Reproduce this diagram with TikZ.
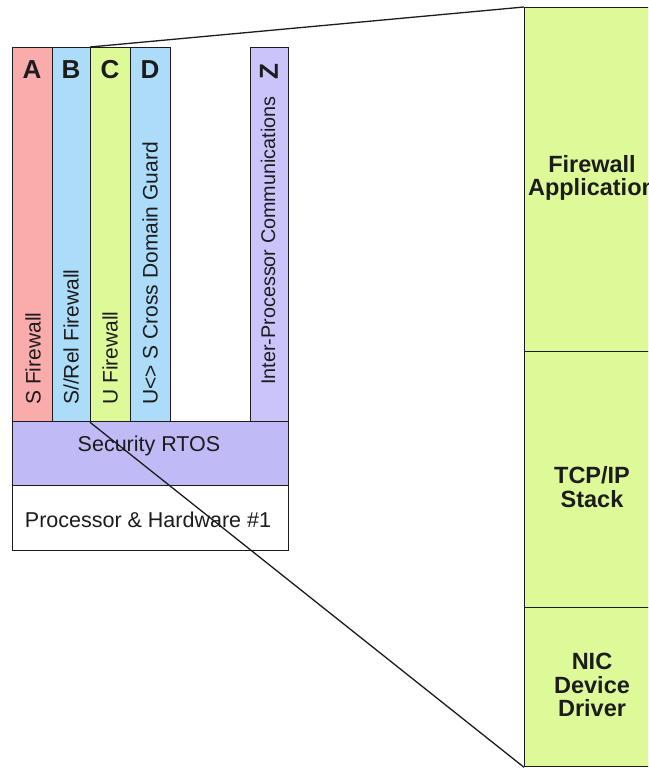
\documentclass[tikz,border=0pt]{standalone}
\usepackage{fontspec}
\setmainfont{Liberation Sans}
\definecolor{cPink}{RGB}{250,172,172}
\definecolor{cBlue}{RGB}{172,220,250}
\definecolor{cLime}{RGB}{222,250,152}
\definecolor{cLav}{RGB}{202,196,250}
\definecolor{cRtos}{RGB}{192,186,246}
\definecolor{cInk}{RGB}{28,28,28}
\begin{document}
\begin{tikzpicture}[x=1pt,y=-1pt,
  box/.style={draw=cInk, line width=1.3pt, inner sep=0pt, anchor=north west},
  letter/.style={font=\bfseries\fontsize{26}{26}\selectfont, text=cInk, inner sep=0pt},
  vlabel/.style={font=\fontsize{21}{21}\selectfont, text=cInk, rotate=90, anchor=west, inner sep=0pt},
  hlabel/.style={font=\fontsize{21.5}{21.5}\selectfont, text=cInk, anchor=base, inner sep=0pt},
  stacklabel/.style={font=\bfseries\fontsize{23.5}{23.5}\selectfont, text=cInk, align=center, inner sep=0pt},
  zoomline/.style={draw=cInk, line width=1.3pt}]
\useasboundingbox (0,0) rectangle (648,768);
\clip (0,0) rectangle (648,768);
\fill[white] (0,0) rectangle (648,768);

% partition columns
\node[box, fill=cPink, minimum width=40pt, minimum height=374pt] (A) at (12,47) {};
\node[box, fill=cBlue, minimum width=38pt, minimum height=374pt] (B) at (52,47) {};
\node[box, fill=cLime, minimum width=40pt, minimum height=374pt] (C) at (90,47) {};
\node[box, fill=cBlue, minimum width=40pt, minimum height=374pt] (D) at (130,47) {};
\node[box, fill=cLav, minimum width=38pt, minimum height=374pt] (Z) at (250,47) {};

% kernel and hardware layers
\node[box, fill=cRtos, minimum width=276pt, minimum height=64pt] (rtos) at (12,421) {};
\node[box, fill=white, minimum width=276pt, minimum height=65pt] (hw) at (12,485) {};

% partition letters
\node[letter] (lA) at (32,70) {A};
\node[letter] (lB) at (71,70) {B};
\node[letter] (lC) at (110,70) {C};
\node[letter] (lD) at (150,70) {D};
\node[letter, rotate=90] (lZ) at (269,72) {Z};

% partition names
\node[vlabel] (tA) at (33,405) {S Firewall};
\node[vlabel] (tB) at (71,405) {S//Rel Firewall};
\node[vlabel] (tC) at (110,405) {U Firewall};
\node[vlabel] (tD) at (150,405) {U<> S Cross Domain Guard};
\node[vlabel, font=\fontsize{19.8}{19.8}\selectfont] (tZ) at (268,385) {Inter-Processor Communications};

\node[hlabel] (trtos) at (149,451) {Security RTOS};
\node[hlabel] (thw) at (148,527) {Processor \& Hardware \#1};

% expanded view of partition C
\node[box, fill=cLime, minimum width=136pt, minimum height=344pt] (fa) at (524,7) {};
\node[box, fill=cLime, minimum width=136pt, minimum height=256pt] (tcp) at (524,351) {};
\node[box, fill=cLime, minimum width=136pt, minimum height=159pt] (nic) at (524,607) {};

\node[stacklabel] (tfa) at (592,178) {Firewall\\Application};
\node[stacklabel] (ttcp) at (592,487) {TCP/IP\\Stack};
\node[stacklabel] (tnic) at (592,685) {NIC\\Device\\Driver};

% projection lines
\draw[zoomline] (C.north west) -- (fa.north west);
\draw[zoomline] (C.south west) -- (nic.south west);
\end{tikzpicture}
\end{document}
